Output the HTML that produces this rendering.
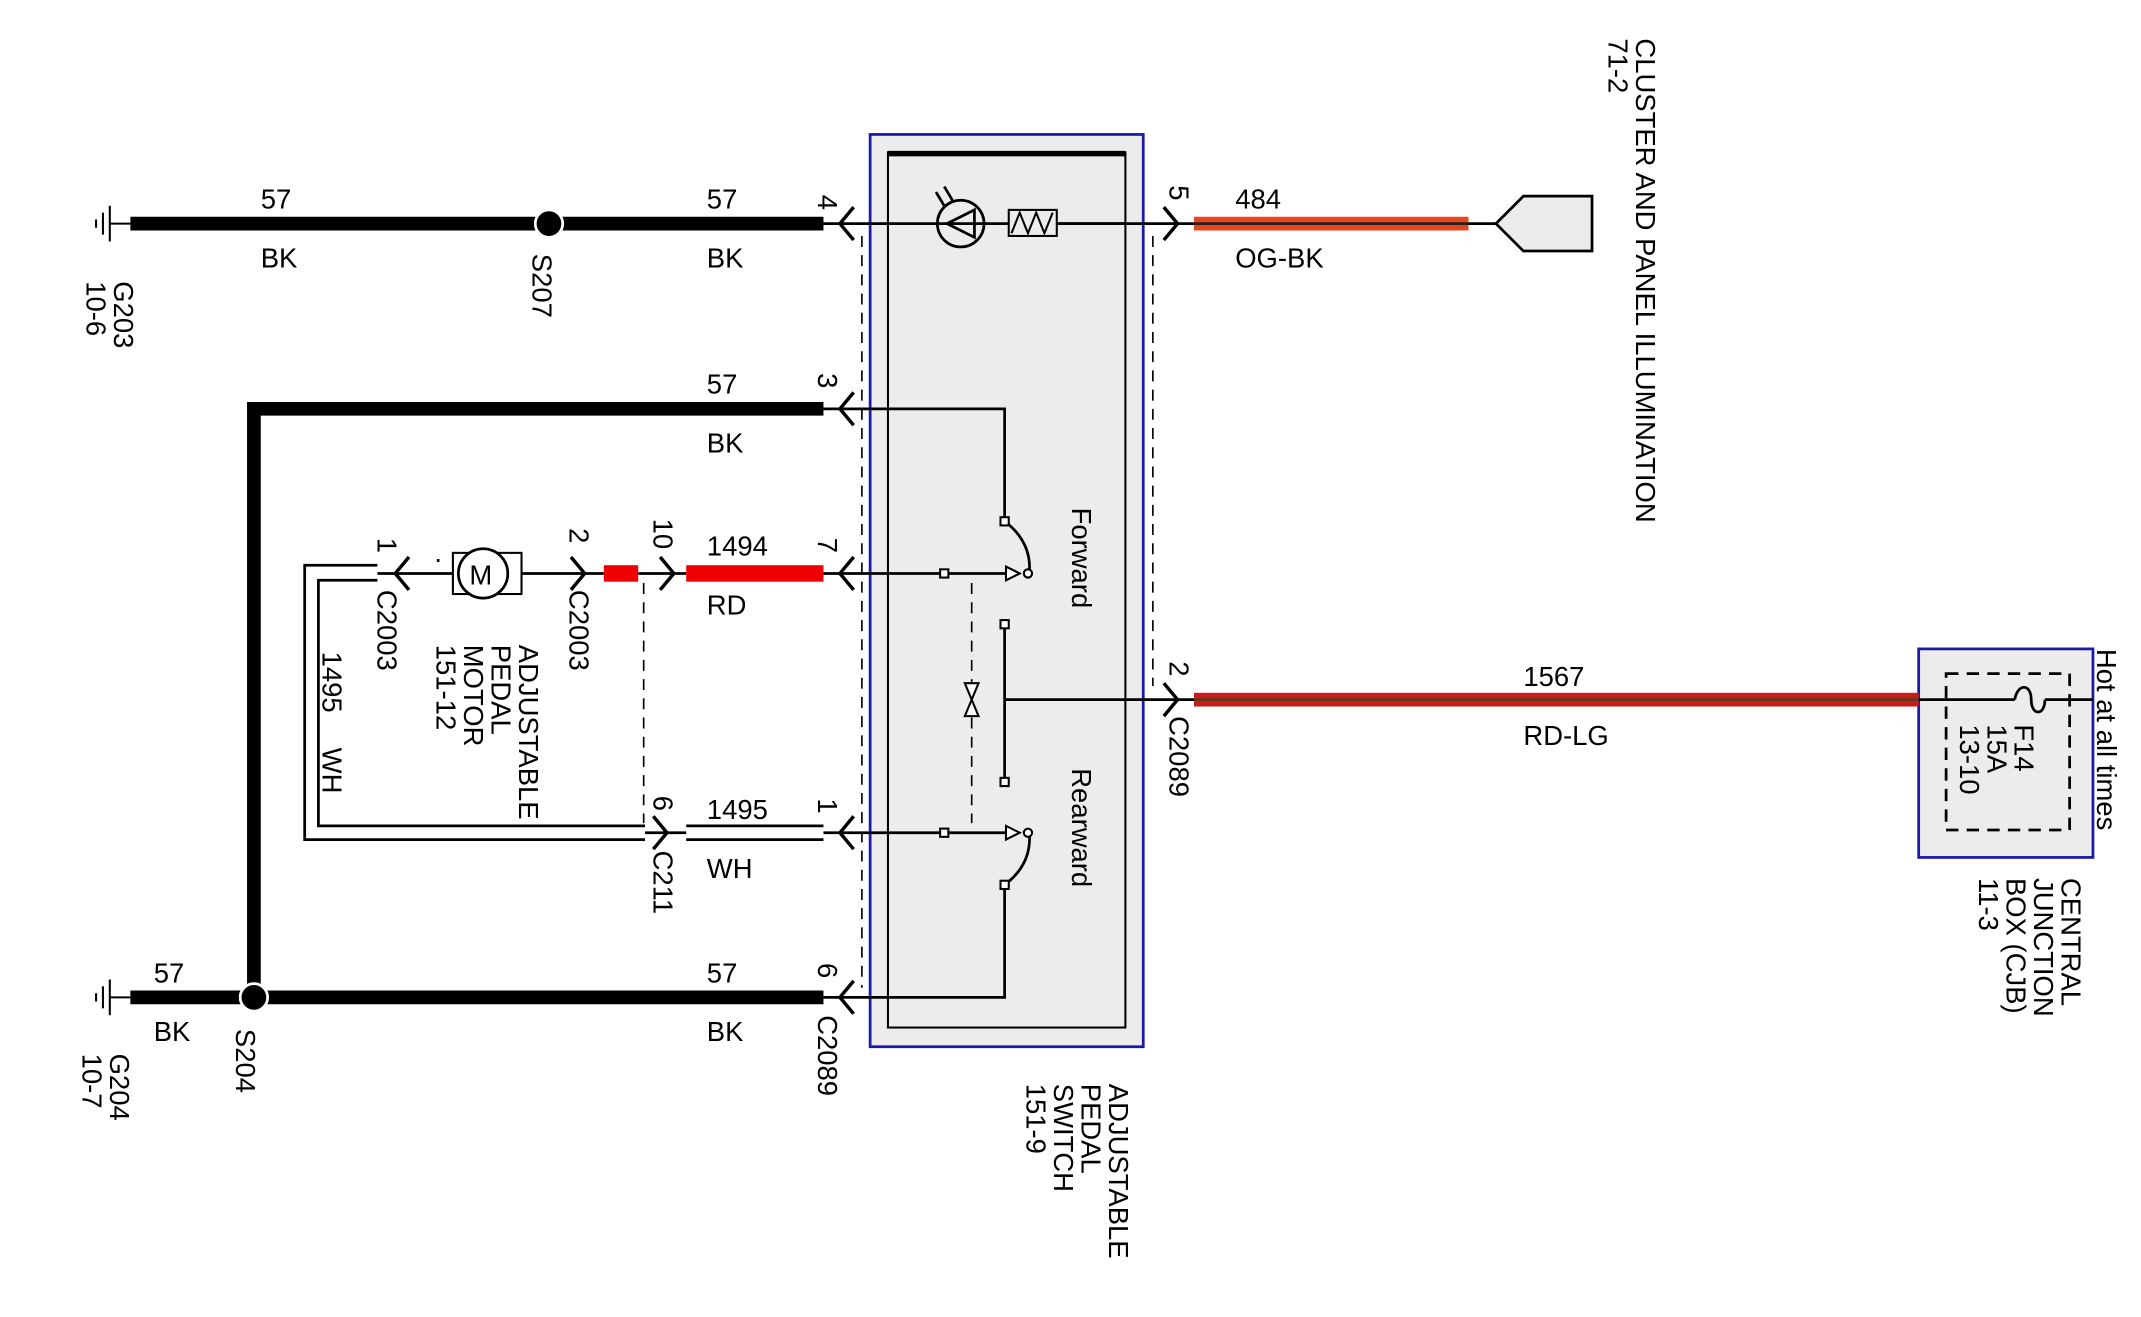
<!DOCTYPE html>
<html><head><meta charset="utf-8"><style>
html,body{margin:0;padding:0;background:#fff;}
svg{display:block;}
text{font-family:"Liberation Sans",sans-serif;font-size:20px;fill:#000;}
</style></head><body>
<svg width="2141" height="1317" viewBox="0 0 1560 960" preserveAspectRatio="none" xmlns="http://www.w3.org/2000/svg">
<!-- switch box -->
<rect x="634" y="98" width="199" height="665" fill="#ececec" stroke="#1a1aa8" stroke-width="2"/>
<rect x="647" y="111" width="173" height="638" fill="none" stroke="#000" stroke-width="1.5"/>
<line x1="647" y1="112" x2="820" y2="112" stroke="#000" stroke-width="4"/>
<!-- CJB box -->
<rect x="1398" y="473" width="127" height="152" fill="#ececec" stroke="#1a1aa8" stroke-width="2"/>
<rect x="1418" y="491" width="90" height="114" fill="none" stroke="#000" stroke-width="2" stroke-dasharray="9,6"/>
<!-- dashed connector lines -->
<g stroke="#000" stroke-width="1.2" stroke-dasharray="8,6" fill="none">
<line x1="628" y1="172" x2="628" y2="720"/>
<line x1="840" y1="172" x2="840" y2="500"/>
<line x1="469" y1="425" x2="469" y2="600"/>
<line x1="708" y1="425" x2="708" y2="600"/>
</g>
<!-- ground symbols -->
<g stroke="#000" stroke-width="1.5">
<line x1="80" y1="163" x2="95" y2="163"/><line x1="80" y1="150" x2="80" y2="176"/><line x1="75" y1="155" x2="75" y2="171"/><line x1="70" y1="160" x2="70" y2="166"/>
<line x1="80" y1="727" x2="95" y2="727"/><line x1="80" y1="714" x2="80" y2="740"/><line x1="75" y1="719" x2="75" y2="735"/><line x1="70" y1="724" x2="70" y2="730"/>
</g>
<!-- thick black wires -->
<g stroke="#000" stroke-width="10" fill="none">
<line x1="95" y1="163" x2="600" y2="163"/>
<polyline points="600,298 185,298 185,727"/>
<line x1="95" y1="727" x2="600" y2="727"/>
</g>
<circle cx="400" cy="163" r="10" fill="#000" stroke="#fff" stroke-width="2"/>
<circle cx="185" cy="727" r="10" fill="#000" stroke="#fff" stroke-width="2"/>
<!-- thin wires -->
<g stroke="#000" stroke-width="2" fill="none">
<line x1="600" y1="163" x2="870" y2="163"/>
<line x1="1070" y1="163" x2="1090" y2="163"/>
<polyline points="600,298 732,298 732,380"/>
<path d="M732,380 Q752,395 750,418"/>
<line x1="275" y1="418" x2="330" y2="418"/>
<line x1="380" y1="418" x2="440" y2="418"/>
<line x1="465" y1="418" x2="500" y2="418"/>
<line x1="600" y1="418" x2="735" y2="418"/>
<line x1="732" y1="455" x2="732" y2="570"/>
<line x1="732" y1="510" x2="870" y2="510"/>
<line x1="1398" y1="510" x2="1468" y2="510"/>
<line x1="1490" y1="510" x2="1525" y2="510"/>
<line x1="600" y1="607" x2="735" y2="607"/>
<path d="M750,607 Q752,630 732,645"/>
<polyline points="732,645 732,727 600,727"/>
<!-- 1495 WH double wire -->
<polyline points="275,412 222,412 222,612 470,612"/>
<polyline points="275,423 232,423 232,602 470,602"/>
<line x1="500" y1="602" x2="600" y2="602"/>
<line x1="500" y1="612" x2="600" y2="612"/>
<line x1="470" y1="607" x2="500" y2="607"/>
</g>
<!-- colored wires -->
<rect x="870" y="158" width="200" height="10" fill="#e8461c"/>
<line x1="870" y1="163" x2="1070" y2="163" stroke="#222" stroke-width="2"/>
<rect x="870" y="505" width="528" height="10" fill="#cc1a1a"/>
<line x1="870" y1="510" x2="1398" y2="510" stroke="#5a3a1a" stroke-width="2"/>
<rect x="440" y="412" width="25" height="12" fill="#e00"/>
<rect x="500" y="412" width="100" height="12" fill="#e00"/>
<!-- connector chevrons -->
<g stroke="#000" stroke-width="2.5" fill="none">
<polyline points="622,151 612,163 622,175"/>
<polyline points="622,286 612,298 622,310"/>
<polyline points="622,406 612,418 622,430"/>
<polyline points="622,595 612,607 622,619"/>
<polyline points="622,715 612,727 622,739"/>
<polyline points="848,151 858,163 848,175"/>
<polyline points="848,498 858,510 848,522"/>
<polyline points="298,406 288,418 298,430"/>
<polyline points="416,406 426,418 416,430"/>
<polyline points="481,406 491,418 481,430"/>
<polyline points="476,595 486,607 476,619"/>
</g>
<!-- cluster connector -->
<polygon points="1090,163 1110,143 1160,143 1160,183 1110,183" fill="#ececec" stroke="#000" stroke-width="2"/>
<!-- lamp + resistor -->
<circle cx="700" cy="163" r="17" fill="none" stroke="#000" stroke-width="2"/>
<polygon points="690,163 710,153 710,173" fill="none" stroke="#000" stroke-width="2"/>
<line x1="682" y1="140" x2="688" y2="150" stroke="#000" stroke-width="2"/>
<line x1="688" y1="136" x2="694" y2="146" stroke="#000" stroke-width="2"/>
<rect x="735" y="153" width="35" height="19" fill="#ececec" stroke="#000" stroke-width="1.5"/>
<polyline points="737,170 743,155 749,170 755,155 761,170 767,155" fill="none" stroke="#000" stroke-width="1.5"/>
<line x1="770" y1="163" x2="820" y2="163" stroke="#000" stroke-width="2"/>
<!-- motor -->
<rect x="330" y="403" width="50" height="30" fill="#fff" stroke="#000" stroke-width="1.5"/>
<circle cx="352" cy="418" r="18" fill="#fff" stroke="#000" stroke-width="2"/>
<text x="342" y="426" style="font-size:20px">M</text>
<text x="316" y="414">·</text>
<!-- small contacts -->
<g fill="#fff" stroke="#000" stroke-width="1.5">
<rect x="685" y="415" width="6" height="6"/><rect x="685" y="604" width="6" height="6"/>
<rect x="729" y="452" width="6" height="6"/><rect x="729" y="567" width="6" height="6"/>
<rect x="729" y="377" width="6" height="6"/><rect x="729" y="642" width="6" height="6"/>
<polygon points="733,413 743,418 733,423"/><polygon points="733,602 743,607 733,612"/>
<circle cx="749" cy="418" r="3"/><circle cx="749" cy="607" r="3"/>
<polygon points="703,498 713,498 708,510"/><polygon points="703,522 713,522 708,510"/>
</g>
<!-- fuse -->
<path d="M1468,510 C1470,498 1480,498 1480,510 C1480,522 1490,522 1490,510" fill="none" stroke="#000" stroke-width="2"/>
<!-- horizontal labels -->
<text x="190" y="152">57</text><text x="190" y="195">BK</text>
<text x="515" y="152">57</text><text x="515" y="195">BK</text>
<text x="515" y="287">57</text><text x="515" y="330">BK</text>
<text x="900" y="152">484</text><text x="900" y="195">OG-BK</text>
<text x="515" y="405">1494</text><text x="515" y="448">RD</text>
<text x="515" y="597">1495</text><text x="515" y="640">WH</text>
<text x="1110" y="500">1567</text><text x="1110" y="543">RD-LG</text>
<text x="112" y="716">57</text><text x="112" y="759">BK</text>
<text x="515" y="716">57</text><text x="515" y="759">BK</text>
<!-- rotated labels -->
<g>
<text transform="translate(596,142) rotate(90)">4</text>
<text transform="translate(596,272) rotate(90)">3</text>
<text transform="translate(596,392) rotate(90)">7</text>
<text transform="translate(596,582) rotate(90)">1</text>
<text transform="translate(596,702) rotate(90)">6</text>
<text transform="translate(596,740) rotate(90)">C2089</text>
<text transform="translate(852,135) rotate(90)">5</text>
<text transform="translate(852,482) rotate(90)">2</text>
<text transform="translate(852,522) rotate(90)">C2089</text>
<text transform="translate(275,392) rotate(90)">1</text>
<text transform="translate(275,430) rotate(90)">C2003</text>
<text transform="translate(415,385) rotate(90)">2</text>
<text transform="translate(415,430) rotate(90)">C2003</text>
<text transform="translate(476,378) rotate(90)">10</text>
<text transform="translate(476,580) rotate(90)">6</text>
<text transform="translate(476,620) rotate(90)">C211</text>
<text transform="translate(235,475) rotate(90)">1495</text>
<text transform="translate(235,545) rotate(90)">WH</text>
<text transform="translate(378,470) rotate(90)"><tspan x="0" y="0">ADJUSTABLE</tspan><tspan x="0" y="20">PEDAL</tspan><tspan x="0" y="40">MOTOR</tspan><tspan x="0" y="60">151-12</tspan></text>
<text transform="translate(83,205) rotate(90)"><tspan x="0" y="0">G203</tspan><tspan x="0" y="20">10-6</tspan></text>
<text transform="translate(80,768) rotate(90)"><tspan x="0" y="0">G204</tspan><tspan x="0" y="20">10-7</tspan></text>
<text transform="translate(388,185) rotate(90)">S207</text>
<text transform="translate(172,750) rotate(90)">S204</text>
<text transform="translate(781,370) rotate(90)">Forward</text>
<text transform="translate(781,560) rotate(90)">Rearward</text>
<text transform="translate(808,790) rotate(90)"><tspan x="0" y="0">ADJUSTABLE</tspan><tspan x="0" y="20">PEDAL</tspan><tspan x="0" y="40">SWITCH</tspan><tspan x="0" y="60">151-9</tspan></text>
<text transform="translate(1192,28) rotate(90)"><tspan x="0" y="0">CLUSTER AND PANEL ILLUMINATION</tspan><tspan x="0" y="20">71-2</tspan></text>
<text transform="translate(1468,528) rotate(90)"><tspan x="0" y="0">F14</tspan><tspan x="0" y="20">15A</tspan><tspan x="0" y="40">13-10</tspan></text>
<text transform="translate(1528,473) rotate(90)">Hot at all times</text>
<text transform="translate(1502,640) rotate(90)"><tspan x="0" y="0">CENTRAL</tspan><tspan x="0" y="20">JUNCTION</tspan><tspan x="0" y="40">BOX (CJB)</tspan><tspan x="0" y="60">11-3</tspan></text>
</g>
</svg>
</body></html>
